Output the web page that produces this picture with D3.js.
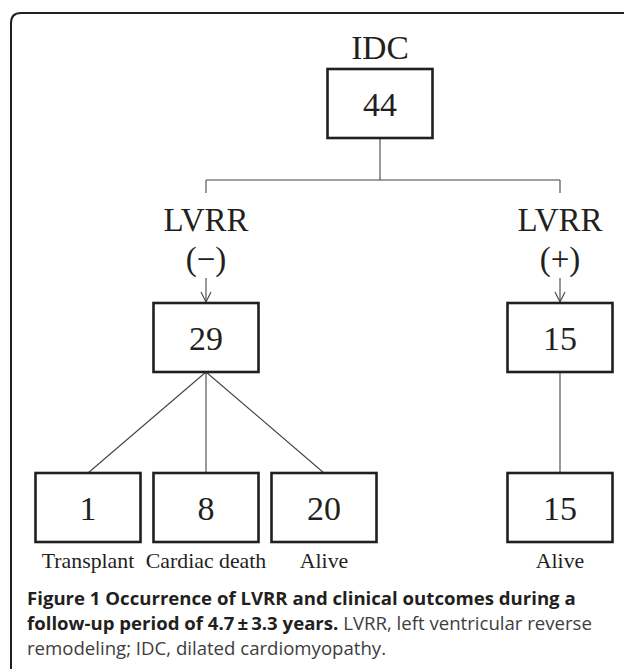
<!DOCTYPE html>
<html>
<head>
<meta charset="utf-8">
<script src="https://cdn.jsdelivr.net/npm/d3@7"></script>
<style>
  html, body { margin: 0; padding: 0; background: #fff; }
  svg { display: block; }
</style>
</head>
<body>
<div id="chart"></div>
<script>
// ---------- data ----------
const rootLabel = "IDC";
const rootValue = 44;
const groupNames = ["LVRR", "LVRR"];
const groupSigns = ["(\u2212)", "(+)"];
const groupValues = [29, 15];
const outcomeGroups = [0, 0, 0, 1];            // parent group of each outcome
const outcomeLabels = ["Transplant", "Cardiac death", "Alive", "Alive"];
const outcomeValues = [1, 8, 20, 15];
const captionBold1 = "Figure 1 Occurrence of LVRR and clinical outcomes during a";
const captionBold2 = "follow-up period of 4.7\u2009\u00b1\u20093.3 years.";
const captionNormal2 = " LVRR, left ventricular reverse";
const captionNormal3 = "remodeling; IDC, dilated cardiomyopathy.";

// ---------- layout ----------
const W = 624, H = 669;
const svg = d3.select("#chart").append("svg").attr("width", W).attr("height", H);

// frame
const fx = 11, fy = 13, fr = 10;
svg.append("path")
  .attr("d", `M${fx},${H + 5} L${fx},${fy + fr} Q${fx},${fy} ${fx + fr},${fy} L${W + 5},${fy}`)
  .attr("fill", "none").attr("stroke", "#231f20").attr("stroke-width", 2);

// horizontal slots for the bottom row (one empty slot between the branches)
const slots = ["o0", "o1", "o2", "gap", "o3"];
const x = d3.scalePoint().domain(slots).range([88, 560]);
const outcomeX = outcomeValues.map((v, i) => x(i < 3 ? "o" + i : "o3"));
const groupX = [x("o1"), x("o3")];
const rootX = 380;

// vertical levels
const levels = ["root", "split", "group", "outcome"];
const y = d3.scaleOrdinal().domain(levels).range([69, 180, 303, 473]);
const boxW = 105, boxH = 69;

const serif = "'Liberation Serif', 'Times New Roman', serif";
const lineColor = "#444";

// connectors
const lines = svg.append("g").attr("stroke", lineColor).attr("stroke-width", 1.1).attr("fill", "none");
lines.append("line").attr("x1", rootX).attr("x2", rootX).attr("y1", y("root") + boxH).attr("y2", y("split"));
lines.append("line").attr("x1", groupX[0]).attr("x2", groupX[1]).attr("y1", y("split")).attr("y2", y("split"));
groupX.forEach(gx => {
  lines.append("line").attr("x1", gx).attr("x2", gx).attr("y1", y("split")).attr("y2", y("split") + 13);
  // arrow
  lines.append("line").attr("x1", gx).attr("x2", gx).attr("y1", y("group") - 25).attr("y2", y("group") - 1);
  lines.append("path").attr("d", `M${gx - 5},${y("group") - 11} L${gx},${y("group") - 1} L${gx + 5},${y("group") - 11}`);
});
outcomeX.forEach((ox, i) => {
  const gx = groupX[outcomeGroups[i]];
  lines.append("line").attr("x1", gx).attr("y1", y("group") + boxH)
    .attr("x2", ox).attr("y2", y("outcome"));
});

// boxes
function box(cx, top, value) {
  svg.append("rect").attr("x", cx - boxW / 2).attr("y", top).attr("width", boxW).attr("height", boxH)
    .attr("fill", "#fff").attr("stroke", "#231f20").attr("stroke-width", 2.6);
  svg.append("text").attr("x", cx).attr("y", top + boxH / 2 + 12)
    .attr("text-anchor", "middle").attr("font-family", serif).attr("font-size", 34)
    .attr("fill", "#231f20").text(value);
}
box(rootX, y("root"), rootValue);
groupValues.forEach((v, i) => box(groupX[i], y("group"), v));
outcomeValues.forEach((v, i) => box(outcomeX[i], y("outcome"), v));

// labels
svg.append("text").attr("x", rootX).attr("y", y("root") - 10).attr("text-anchor", "middle")
  .attr("font-family", serif).attr("font-size", 33.5).attr("fill", "#231f20").text(rootLabel);
groupNames.forEach((n, i) => {
  svg.append("text").attr("x", groupX[i]).attr("y", 231).attr("text-anchor", "middle")
    .attr("font-family", serif).attr("font-size", 33).attr("fill", "#231f20").text(n);
  svg.append("text").attr("x", groupX[i]).attr("y", 270).attr("text-anchor", "middle")
    .attr("font-family", serif).attr("font-size", 33).attr("fill", "#231f20").text(groupSigns[i]);
});
outcomeLabels.forEach((l, i) => {
  svg.append("text").attr("x", outcomeX[i]).attr("y", 568).attr("text-anchor", "middle")
    .attr("font-family", serif).attr("font-size", 21.8).attr("fill", "#231f20").text(l);
});

// caption
const cap = svg.append("g").attr("font-family", "'Open Sans', 'Noto Sans', sans-serif").attr("font-size", 18.6);
const capX = 27;
cap.append("text").attr("x", capX).attr("y", 605).attr("font-weight", "bold").attr("fill", "#231f20").text(captionBold1);
const t2 = cap.append("text").attr("x", capX).attr("y", 630);
t2.append("tspan").attr("font-weight", "bold").attr("fill", "#231f20").text(captionBold2);
t2.append("tspan").attr("fill", "#3d3d3d").text(captionNormal2);
cap.append("text").attr("x", capX).attr("y", 655).attr("fill", "#3d3d3d").text(captionNormal3);
</script>
</body>
</html>
